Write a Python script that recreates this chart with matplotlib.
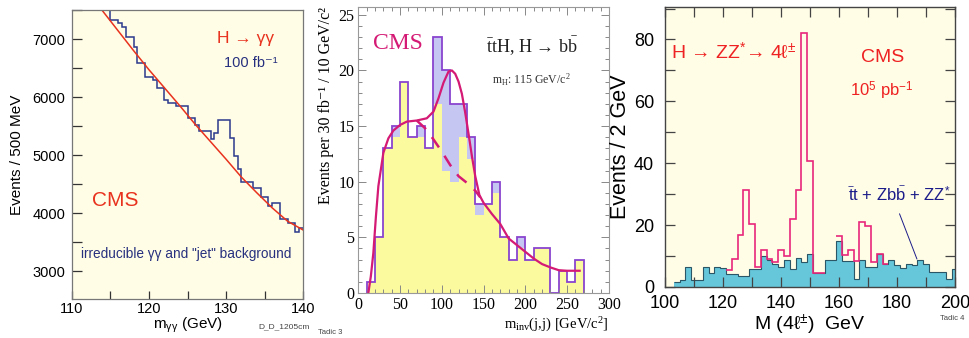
import numpy as np
import matplotlib
matplotlib.use("Agg")
import matplotlib.pyplot as plt
from matplotlib.ticker import MultipleLocator

plt.rcParams["mathtext.fontset"] = "custom"
plt.rcParams["mathtext.rm"] = "Liberation Serif"
plt.rcParams["mathtext.it"] = "Liberation Serif:italic"
plt.rcParams["mathtext.bf"] = "Liberation Serif:bold"
plt.rcParams["mathtext.sf"] = "Liberation Sans"

SANS = ["Liberation Sans", "DejaVu Sans"]
SERIF = ["Liberation Serif", "DejaVu Serif"]

# --- H -> gamma gamma, events per 500 MeV (bins start at 114.5 GeV) ---
gg_edges = np.arange(114.5, 140.01, 0.5)
gg_counts = [7700, 7330, 7330, 7270, 7210, 7040, 7040, 6870, 6580, 6580,
             6350, 6350, 6300, 6150, 6150, 5950, 5900, 5900, 5840, 5840,
             5840, 5640, 5640, 5525, 5410, 5410, 5410, 5270, 5380, 5600,
             5600, 5600, 5300, 4980, 4760, 4540, 4540, 4540, 4440, 4440,
             4270, 4270, 4125, 4180, 4180, 3900, 3900, 3830, 3830, 3680,
             3740]
gg_fit_m = [113.5, 114, 116, 118, 120, 122, 124, 126, 128, 130, 132, 134, 136, 138, 140]
gg_fit_v = [7570, 7480, 7140, 6800, 6470, 6160, 5850, 5530, 5230, 4930, 4620, 4350, 4090, 3860, 3710]

# --- ttH, H -> bb, events per 10 GeV ---
tth_edges = np.arange(10, 271, 10)
tth_total = [1, 5, 13, 15, 19, 14, 15, 13, 23, 20, 17, 17, 14,
             8, 8, 10, 5, 3, 5, 3, 4, 4, 0, 2, 1, 3]
tth_bkg = [1, 5, 13, 14, 19, 14, 14, 13, 17, 11, 10, 14, 12,
           7, 8, 9, 5, 3, 4, 3, 4, 4, 0, 2, 1, 3]
tth_fit_m = [12, 15, 18, 21, 24, 30, 36, 42, 50, 58, 70, 82, 90, 96, 102, 108,
             112, 116, 120, 124, 128, 132, 136, 140, 145, 150, 160, 170, 180,
             190, 200, 210, 220, 230, 240, 250, 265]
tth_fit_v = [0, 1.5, 3.6, 6.8, 9.6, 12.6, 13.9, 14.6, 15.1, 15.4, 15.5, 15.7,
             16.3, 17.5, 18.9, 19.9, 20.0, 19.7, 19.0, 17.9, 16.2, 14.3, 12.3,
             10.5, 8.8, 8.1, 7.1, 6.2, 4.9, 4.3, 3.7, 3.1, 2.6, 2.3, 2.05, 2.0, 2.0]
tth_bkgfit_m = [70, 80, 90, 100, 110, 120, 130, 140, 146]
tth_bkgfit_v = [15.5, 14.8, 13.8, 12.7, 11.5, 10.5, 9.9, 9.2, 8.6]

# --- H -> ZZ* -> 4 leptons, events per 2 GeV (bins start at 103 GeV) ---
zz_edges = np.arange(103, 202, 2)
zz_bkg = [1.6, 2.4, 6.6, 2.4, 2.4, 6.4, 4.6, 6.5, 6.3, 4.3,
          4.3, 3.4, 3.4, 5.9, 5.9, 9.9, 8.6, 7.5, 6.4, 8.6,
          5.9, 9.5, 8.0, 10.7, 4.5, 4.5, 8.6, 8.6, 15.0, 8.3,
          8.3, 2.6, 8.8, 6.6, 6.6, 10.7, 7.5, 8.8, 7.0, 6.2,
          7.5, 7.0, 8.6, 7.5, 4.8, 4.8, 4.8, 2.6, 5.9]
zz_total = [1.6, 2.4, 6.6, 2.4, 2.4, 6.4, 4.6, 6.5, 6.3, 5.6,
            9.1, 16.7, 31.2, 20.2, 6.6, 12.0, 9.1, 8.0, 12.0, 9.9,
            22.0, 31.5, 82.0, 40.6, 4.5, 4.5, 8.6, 8.6, 16.5, 10.3,
            12.0, 8.5, 21.0, 19.6, 8.0, 10.7, 7.5, 8.8, 7.0, 6.2,
            7.5, 7.0, 8.6, 7.5, 4.8, 4.8, 4.8, 2.6, 5.9]
# bin index ranges where the signal sits on top of the background
zz_signal_ranges = [(9, 25), (28, 36)]

CREAM = "#fffde6"
fig = plt.figure(figsize=(9.7, 3.38), dpi=100)

# ---------------- left panel ----------------
ax1 = fig.add_axes([0.0742, 0.1154, 0.2382, 0.855])
ax1.set_facecolor(CREAM)
ax1.stairs(gg_counts, gg_edges, baseline=None, color="#2b3a8e", lw=1.1)
ax1.plot(gg_fit_m, gg_fit_v, color="#e8321e", lw=1.1)
ax1.set_xlim(110, 140)
ax1.set_ylim(2520, 7500)
ax1.xaxis.set_major_locator(MultipleLocator(10))
ax1.xaxis.set_minor_locator(MultipleLocator(5))
ax1.yaxis.set_major_locator(MultipleLocator(1000))
ax1.yaxis.set_minor_locator(MultipleLocator(500))
ax1.tick_params(which="both", direction="in", top=False, right=False,
                length=7, width=0.9, color="#333333", labelsize=10.5, pad=5)
ax1.tick_params(axis="x", which="both", length=6, pad=2)
for lab in ax1.get_xticklabels() + ax1.get_yticklabels():
    lab.set_family(SANS)
for sp in ax1.spines.values():
    sp.set_color("#777777")
    sp.set_linewidth(0.9)
ax1.set_xlabel(r"m$_{\mathsf{\gamma\gamma}}$ (GeV)", family=SANS, fontsize=11, labelpad=0)
ax1.set_ylabel("Events / 500 MeV", family=SANS, fontsize=11, labelpad=6)
ax1.text(0.753, 0.901, "H → γγ", transform=ax1.transAxes, color="#e8321e",
         family=SANS, fontsize=12.5, ha="center", va="center")
ax1.text(0.775, 0.815, "100 fb⁻¹", transform=ax1.transAxes, color="#27307e",
         family=SANS, fontsize=10.5, ha="center", va="center")
ax1.text(0.186, 0.341, "CMS", transform=ax1.transAxes, color="#e8321e",
         family=SANS, fontsize=15, ha="center", va="center")
ax1.text(0.496, 0.156, "irreducible γγ and \"jet\" background", transform=ax1.transAxes,
         color="#27307e", family=SANS, fontsize=9.8, ha="center", va="center")
fig.text(0.266, 0.028, "D_D_1205cm", family=SANS, fontsize=6, color="#444444")

# ---------------- middle panel ----------------
ax2 = fig.add_axes([0.3694, 0.1331, 0.2583, 0.8462])
ax2.set_facecolor("white")
ax2.stairs(tth_bkg, tth_edges, baseline=0, fill=True, color="#fbfa9e", lw=0)
ax2.stairs(tth_total, tth_edges, baseline=tth_bkg, fill=True, color="#c6c6f2", lw=0)
ax2.stairs(tth_total, tth_edges, baseline=0, color="#8a44cf", lw=1.3)
ax2.plot(tth_bkgfit_m, tth_bkgfit_v, color="#d41a74", lw=1.8, ls=(0, (5, 4)))
ax2.plot(tth_fit_m, tth_fit_v, color="#d41a74", lw=1.6, solid_joinstyle="round")
ax2.set_xlim(0, 300)
ax2.set_ylim(0, 25.7)
ax2.xaxis.set_major_locator(MultipleLocator(50))
ax2.xaxis.set_minor_locator(MultipleLocator(10))
ax2.yaxis.set_major_locator(MultipleLocator(5))
ax2.yaxis.set_minor_locator(MultipleLocator(1))
ax2.tick_params(which="both", direction="in", top=True, right=True,
                color="#888888", width=0.7, labelsize=11.5, pad=3)
ax2.tick_params(which="major", length=6)
ax2.tick_params(which="minor", length=3)
for lab in ax2.get_xticklabels() + ax2.get_yticklabels():
    lab.set_family(SERIF)
for sp in ax2.spines.values():
    sp.set_color("#999999")
    sp.set_linewidth(0.8)
ax2.set_xlabel(r"m$_{\mathrm{inv}}$(j,j) [GeV/c$^{\mathrm{2}}$]", family=SERIF,
               fontsize=10.5, loc="right", labelpad=2)
ax2.set_ylabel("Events per 30 fb⁻¹ / 10 GeV/c²", family=SERIF,
               fontsize=11.5, loc="top", labelpad=3)
ax2.text(0.157, 0.872, "CMS", transform=ax2.transAxes, color="#d41a74",
         family=SERIF, fontsize=17, ha="center", va="center")
ax2.text(0.692, 0.866, r"$\bar{\mathrm{t}}$tH, H → b$\bar{\mathrm{b}}$", transform=ax2.transAxes,
         color="#222222", family=SERIF, fontsize=13, ha="center", va="center")
ax2.text(0.692, 0.745, r"m$_{\mathrm{H}}$: 115 GeV/c$^{\mathrm{2}}$", transform=ax2.transAxes,
         color="#333333", family=SERIF, fontsize=8.5, ha="center", va="center")
fig.text(0.328, 0.012, "Tadic 3", family=SANS, fontsize=5.5, color="#444444")

# ---------------- right panel ----------------
ax3 = fig.add_axes([0.6856, 0.1509, 0.299, 0.8284])
ax3.set_facecolor(CREAM)
ax3.stairs(zz_bkg, zz_edges, baseline=0, fill=True, color="#66c6da", lw=0)
ax3.stairs(zz_bkg, zz_edges, baseline=None, color="#2a5666", lw=0.8)
for i0, i1 in zz_signal_ranges:
    ax3.stairs(zz_total[i0:i1 + 1], zz_edges[i0:i1 + 2], baseline=None,
               color="#e8287a", lw=1.2)
ax3.set_xlim(100, 200)
ax3.set_ylim(0, 90.5)
ax3.xaxis.set_major_locator(MultipleLocator(20))
ax3.xaxis.set_minor_locator(MultipleLocator(10))
ax3.yaxis.set_major_locator(MultipleLocator(20))
ax3.yaxis.set_minor_locator(MultipleLocator(10))
ax3.tick_params(which="both", direction="in", top=True, right=True, length=7,
                width=0.9, color="#444444", labelsize=13, pad=8)
ax3.tick_params(axis="x", which="both", pad=6)
for lab in ax3.get_xticklabels() + ax3.get_yticklabels():
    lab.set_family(SANS)
for sp in ax3.spines.values():
    sp.set_color("#444444")
    sp.set_linewidth(1.0)
ax3.set_xlabel(r"M (4ℓ$^{\mathsf{\pm}}$)  GeV", family=SANS, fontsize=14, labelpad=0)
ax3.set_ylabel("Events / 2 GeV", family=SANS, fontsize=15.5, labelpad=2)
ax3.text(0.236, 0.838, r"H → ZZ$^{\mathsf{*}}$→ 4ℓ$^{\mathsf{\pm}}$", transform=ax3.transAxes,
         color="#ee2222", family=SANS, fontsize=14, ha="center", va="center")
ax3.text(0.75, 0.818, "CMS", transform=ax3.transAxes, color="#ee2222",
         family=SANS, fontsize=14, ha="center", va="center")
ax3.text(0.747, 0.70, r"10$^{\mathsf{5}}$ pb$^{\mathsf{-1}}$", transform=ax3.transAxes,
         color="#ee2222", family=SANS, fontsize=12, ha="center", va="center")
ax3.text(0.807, 0.329, r"$\bar{\mathsf{t}}$t + Zb$\bar{\mathsf{b}}$ + ZZ$^{\mathsf{*}}$",
         transform=ax3.transAxes, color="#1c1c8a", family=SANS, fontsize=12,
         ha="center", va="center")
ax3.annotate("", xy=(187.2, 8.2), xytext=(180.5, 24.5),
             arrowprops=dict(arrowstyle="-", color="#1c1c8a", lw=0.7))
fig.text(0.969, 0.052, "Tadic 4", family=SANS, fontsize=5.5, color="#444444")

fig.savefig("out.png", dpi=100)
